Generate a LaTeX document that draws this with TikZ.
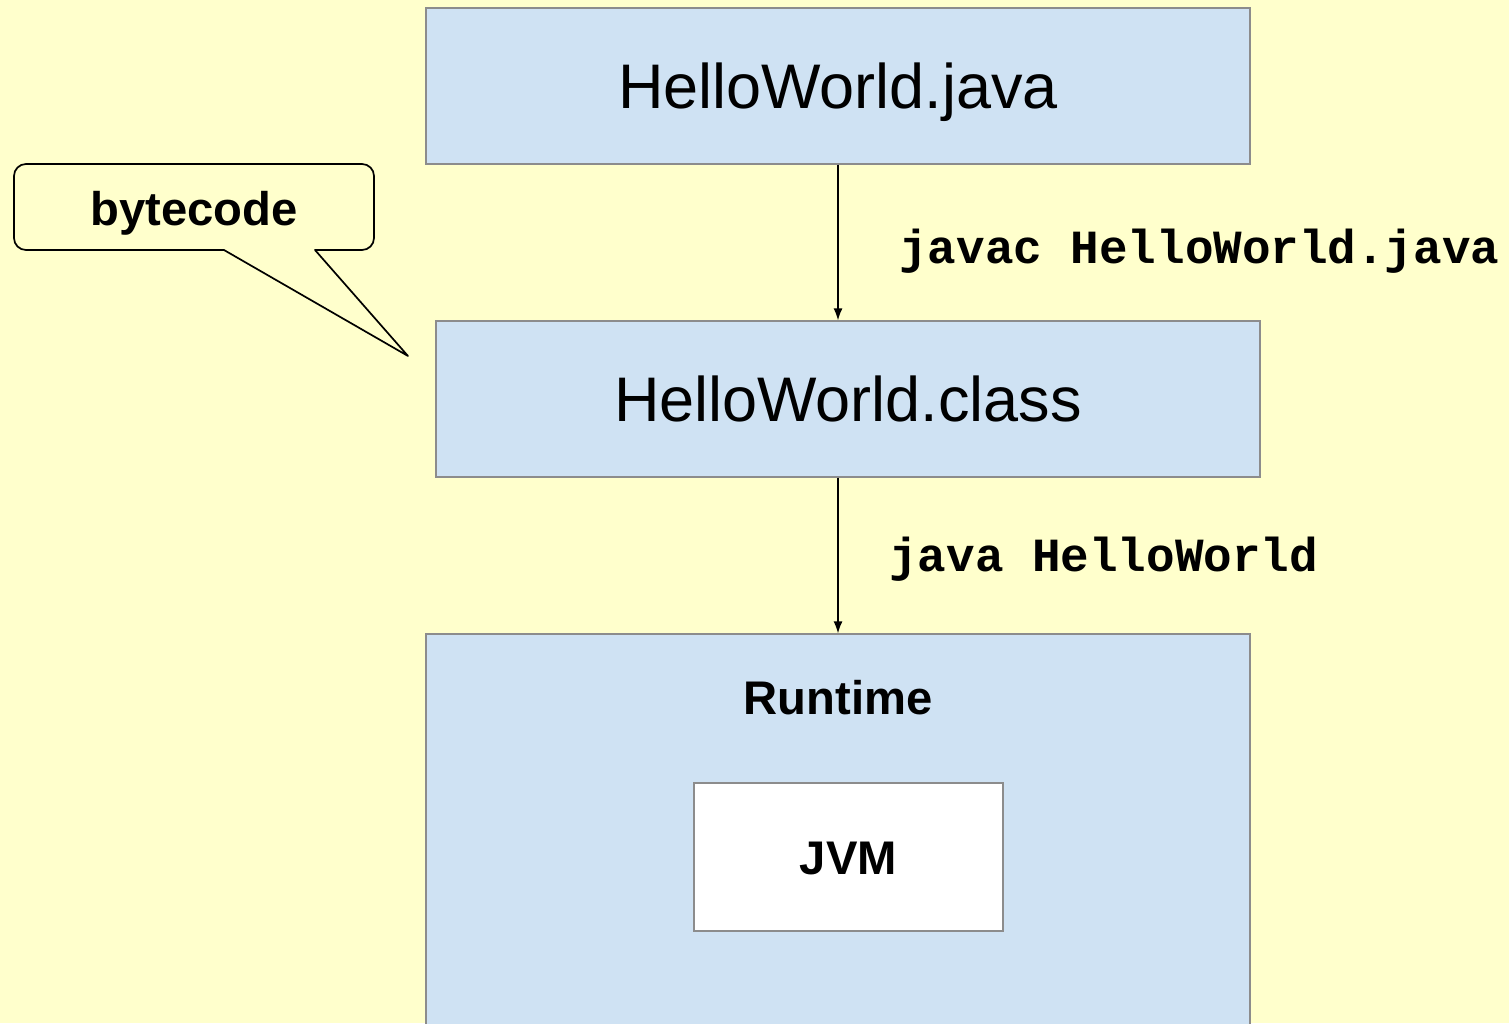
\documentclass[tikz,border=0pt]{standalone}
\usepackage{fontspec}
\setmainfont{Liberation Sans}
\setmonofont{Liberation Mono}
\usetikzlibrary{arrows.meta}
\definecolor{paper}{HTML}{FFFFCC}
\definecolor{boxblue}{HTML}{CFE2F3}
\definecolor{edge}{HTML}{8C8C8C}
\tikzset{
  file/.style={draw=edge, fill=boxblue, line width=0.6pt, minimum width=412pt, minimum height=78pt, inner sep=0pt, font=\fontsize{31.5}{36}\selectfont, text height=22.6pt, text depth=0pt},
  cmd/.style={font=\fontsize{23.8}{28}\selectfont\ttfamily\bfseries, anchor=base west, inner sep=0pt},
  tag/.style={font=\fontsize{23.6}{28}\selectfont\bfseries, inner sep=0pt, text height=17pt, text depth=0pt},
  flow/.style={line width=0.75pt, -{Latex[length=6pt,width=4.5pt]}},
}
\begin{document}
\begin{tikzpicture}[x=0.5pt, y=-0.5pt]
\fill[paper] (0,0) rectangle (1509,1023);
\useasboundingbox (0,0) rectangle (1509,1023);
\begin{scope}
\clip (0,0) rectangle (1509,1023);
\node[file] (java) at (838,86) {HelloWorld.java};
\node[file] (class) at (848,399) {HelloWorld.class};
\node[file, minimum height=203pt] (runtime) at (838,837) {};
\node[tag] (rtlabel) at (838,697) {Runtime};
\node[draw=edge, fill=white, line width=0.6pt, minimum width=154.5pt, minimum height=74pt, tag] (jvm) at (848.5,857) {JVM};
\end{scope}
% commands on the arrows
\draw[flow] (java.south) -- (java.south |- class.north);
\draw[flow] (java.south |- class.south) -- (runtime.north);
\node[cmd] (javac) at (899,263) {javac HelloWorld.java};
\node[cmd] (run) at (889,571) {java HelloWorld};
% speech bubble
\node[tag] (bytecode) at (194,208) {bytecode};
\coordinate (tip) at (408,356);
\draw[line width=0.85pt, line join=round] (tip) -- (315,250) [rounded corners=6pt] -- (374,250) -- (374,164) -- (14,164) -- (14,250) [sharp corners] -- (224,250) -- cycle;
\end{tikzpicture}
\end{document}
